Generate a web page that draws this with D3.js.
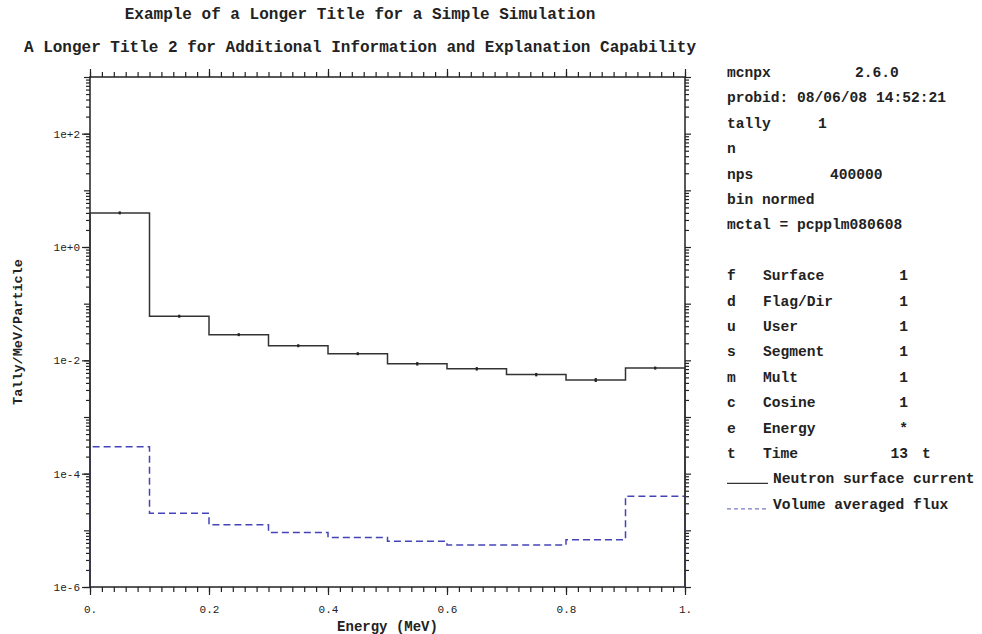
<!DOCTYPE html>
<html><head><meta charset="utf-8">
<script src="https://cdn.jsdelivr.net/npm/d3@7"></script>
<style>
body{margin:0;background:#fff;}
text{font-family:"Liberation Mono","Courier New",monospace;fill:#222;}
</style></head><body><svg id="c" width="982" height="634"></svg>
<script>
// ---------------- data ----------------
const binEdges = [0, 0.1, 0.2, 0.3, 0.4, 0.5, 0.6, 0.7, 0.8, 0.9, 1.0];
const surfaceCurrent = [4.0, 0.060, 0.0284, 0.0181, 0.0131, 0.0087, 0.0071, 0.0056, 0.0045, 0.0073];
const currentRelErr = [0.01, 0.03, 0.04, 0.05, 0.06, 0.07, 0.07, 0.07, 0.08, 0.06];
const volumeFlux = [3.0e-4, 2.0e-5, 1.25e-5, 9.2e-6, 7.5e-6, 6.4e-6, 5.5e-6, 5.5e-6, 6.8e-6, 4.0e-5];
const xTickValues = [0, 0.2, 0.4, 0.6, 0.8, 1.0];
const xTickLabels = ["0.", "0.2", "0.4", "0.6", "0.8", "1."];
const yTickValues = [1e-6, 1e-4, 1e-2, 1, 1e2];
const yTickLabels = ["1e-6", "1e-4", "1e-2", "1e+0", "1e+2"];
const titleLines = ["Example of a Longer Title for a Simple Simulation",
  "A Longer Title 2 for Additional Information and Explanation Capability"];
const xAxisTitle = "Energy (MeV)";
const yAxisTitle = "Tally/MeV/Particle";
const headerKeys = ["mcnpx", "probid: 08/06/08 14:52:21", "tally", "n", "nps", "bin normed", "mctal = pcpplm080608"];
const headerVals = ["2.6.0", "", "1", "", "400000", "", ""];
const binLetters = ["f", "d", "u", "s", "m", "c", "e", "t"];
const binNames = ["Surface", "Flag/Dir", "User", "Segment", "Mult", "Cosine", "Energy", "Time"];
const binVals = ["1", "1", "1", "1", "1", "1", "*", "13"];
const binSuffix = ["", "", "", "", "", "", "", "t"];
const legendLabels = ["Neutron surface current", "Volume averaged flux"];

// ---------------- layout ----------------
const svg = d3.select("#c");
const L = 90, R = 685, T = 77, B = 587;
const x = d3.scaleLinear().domain([0, 1]).range([L, R]);
const y = d3.scaleLog().domain([1e-6, 1e3]).range([B, T]);

// titles
svg.selectAll(".title").data(titleLines).join("text")
  .attr("x", 360).attr("y", (d, i) => i === 0 ? 19 : 52)
  .attr("text-anchor", "middle").attr("font-size", 16).attr("font-weight", "bold")
  .text(d => d);

// ticks
const g = svg.append("g");
const xMinor = d3.range(0, 51).map(i => i / 50);
const yMinor = [];
for (let d = -6; d < 3; d++) for (let k = 2; k <= 9; k++) yMinor.push(k * Math.pow(10, d));
const yDecades = d3.range(-6, 4).map(d => Math.pow(10, d));

const xAxB = d3.axisBottom(x).tickValues(xMinor).tickSize(5).tickFormat("");
const xAxT = d3.axisTop(x).tickValues(xMinor).tickSize(5).tickFormat("");
g.append("g").attr("transform", `translate(0,${B})`).call(xAxB);
g.append("g").attr("transform", `translate(0,${T})`).call(xAxT);
const xMajB = d3.axisBottom(x).tickValues(xTickValues).tickSize(8).tickFormat((d, i) => xTickLabels[i]).tickPadding(10);
const xMajT = d3.axisTop(x).tickValues(xTickValues).tickSize(8).tickFormat("");
const gxb = g.append("g").attr("transform", `translate(0,${B})`).call(xMajB);
g.append("g").attr("transform", `translate(0,${T})`).call(xMajT);

const yAxL = d3.axisLeft(y).tickValues(yMinor).tickSize(4).tickFormat("");
const yAxR = d3.axisRight(y).tickValues(yMinor).tickSize(4).tickFormat("");
g.append("g").attr("transform", `translate(${L},0)`).call(yAxL);
g.append("g").attr("transform", `translate(${R},0)`).call(yAxR);
const yDecL = d3.axisLeft(y).tickValues(yDecades).tickSize(6).tickFormat("");
const yDecR = d3.axisRight(y).tickValues(yDecades).tickSize(6).tickFormat("");
g.append("g").attr("transform", `translate(${L},0)`).call(yDecL);
g.append("g").attr("transform", `translate(${R},0)`).call(yDecR);
const yMajL = d3.axisLeft(y).tickValues(yTickValues).tickSize(8).tickPadding(2).tickFormat((d, i) => yTickLabels[i]);
const gyl = g.append("g").attr("transform", `translate(${L},0)`).call(yMajL);

g.selectAll(".domain").remove();
g.selectAll(".tick line").attr("stroke", "#222").attr("stroke-width", 1.2);
g.selectAll(".tick text").attr("font-family", "Liberation Mono, Courier New, monospace")
  .attr("font-size", 11).attr("fill", "#333");

// frame
svg.append("rect").attr("x", L).attr("y", T).attr("width", R - L).attr("height", B - T)
  .attr("fill", "none").attr("stroke", "#222").attr("stroke-width", 1.5);

// axis titles
svg.append("text").attr("x", (L + R) / 2).attr("y", 631).attr("text-anchor", "middle")
  .attr("font-size", 14).attr("font-weight", "bold").text(xAxisTitle);
svg.append("text").attr("transform", `translate(22,${(T + B) / 2}) rotate(-90)`)
  .attr("text-anchor", "middle").attr("font-size", 13.5).attr("font-weight", "bold").text(yAxisTitle);

// histogram paths
function stepPts(vals) {
  const pts = [[binEdges[0], 1e-6]];
  vals.forEach((v, i) => pts.push([binEdges[i], v]));
  pts.push([binEdges[binEdges.length - 1], vals[vals.length - 1]]);
  pts.push([binEdges[binEdges.length - 1], 1e-6]);
  return pts;
}
const line = d3.line().x(d => x(d[0])).y(d => y(d[1])).curve(d3.curveStepAfter);
svg.append("path").attr("d", line(stepPts(volumeFlux))).attr("fill", "none")
  .attr("stroke", "#4444b8").attr("stroke-width", 1.5).attr("stroke-dasharray", "7,4");
svg.append("path").attr("d", line(stepPts(surfaceCurrent))).attr("fill", "none")
  .attr("stroke", "#333").attr("stroke-width", 1.5);

// error bars
svg.selectAll(".err").data(surfaceCurrent).join("line")
  .attr("x1", (d, i) => x((binEdges[i] + binEdges[i + 1]) / 2))
  .attr("x2", (d, i) => x((binEdges[i] + binEdges[i + 1]) / 2))
  .attr("y1", (d, i) => Math.min(y(d * (1 + currentRelErr[i])), y(d) - 1.5))
  .attr("y2", (d, i) => Math.max(y(d * (1 - currentRelErr[i])), y(d) + 1.5))
  .attr("stroke", "#222").attr("stroke-width", 2.2);

// info panel
const PX = 727, rowH = 25.4, row0 = 77;
const headerValX = [855, 0, 818, 0, 830, 0, 0];
const panel = svg.append("g").attr("font-size", 14.6).attr("font-weight", "bold");
headerKeys.forEach((k, i) => {
  panel.append("text").attr("x", PX).attr("y", row0 + i * rowH).text(k);
  if (headerVals[i]) panel.append("text").attr("x", headerValX[i]).attr("y", row0 + i * rowH).text(headerVals[i]);
});
binLetters.forEach((k, i) => {
  const yy = row0 + (i + 8) * rowH;
  panel.append("text").attr("x", PX).attr("y", yy).text(k);
  panel.append("text").attr("x", 763).attr("y", yy).text(binNames[i]);
  panel.append("text").attr("x", 908).attr("y", yy).attr("text-anchor", "end").text(binVals[i]);
  if (binSuffix[i]) panel.append("text").attr("x", 922).attr("y", yy).text(binSuffix[i]);
});
legendLabels.forEach((lab, i) => {
  const yy = row0 + (16 + i) * rowH;
  panel.append("line").attr("x1", PX).attr("x2", 768).attr("y1", yy).attr("y2", yy)
    .attr("stroke", i === 0 ? "#333" : "#7a7ac8").attr("stroke-width", 1.3)
    .attr("stroke-dasharray", i === 0 ? null : "4,3");
  panel.append("text").attr("x", 773).attr("y", yy).text(lab);
});
</script></body></html>
